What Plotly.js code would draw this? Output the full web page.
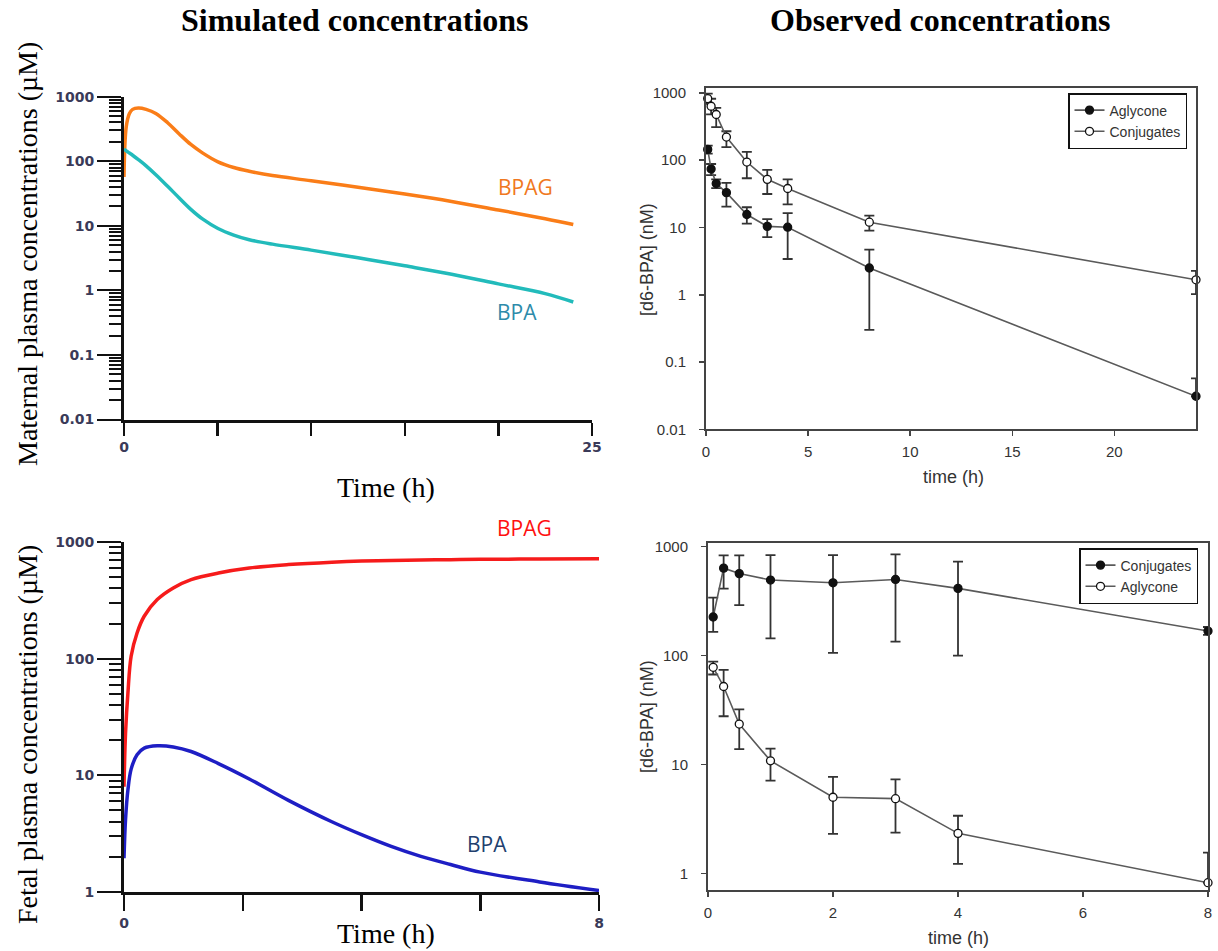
<!DOCTYPE html>
<html><head><meta charset="utf-8">
<script src="https://cdn.plot.ly/plotly-3.0.1.min.js"></script>
<style>html,body{margin:0;padding:0;background:#fff;} #chart{width:1218px;height:951px;}</style>
</head><body><div id="chart"></div>
<script>
// ---------- Simulated maternal (top-left) ----------
const matTime = [0, 0.12, 0.29, 0.46, 0.77, 1.18, 1.7, 2.33, 2.95, 3.57, 4.19, 5.02, 5.86, 6.69, 7.93, 10, 12.5, 15, 17.5, 20, 22.5, 24];
const matBPAG = [57, 343, 550, 636, 667, 636, 551, 395, 265, 182, 135, 98, 80, 70, 60, 50, 39.5, 31, 23.8, 17.6, 12.9, 10.5];
const matBPA  = [155, 145, 134, 124, 106, 85, 62, 41, 27, 18, 12.8, 9.1, 7.2, 6.1, 5.2, 4.2, 3.2, 2.4, 1.78, 1.26, 0.89, 0.66];

// ---------- Simulated fetal (bottom-left) ----------
const fetTime = [0, 0.026, 0.066, 0.12, 0.22, 0.34, 0.56, 0.83, 1.13, 1.59, 2.11, 2.77, 3.5, 4, 4.5, 5, 5.5, 6, 7, 8];
const fetBPAG = [8, 23, 51, 105, 166, 231, 321, 404, 476, 542, 598, 640, 672, 687, 695, 701, 706, 710, 715, 720];
const fetBPA  = [1.95, 4.2, 7.5, 11.3, 15.0, 17.1, 17.9, 17.5, 16.0, 12.6, 9.3, 6.1, 4.0, 3.1, 2.46, 2.02, 1.72, 1.48, 1.22, 1.03];

// ---------- Observed maternal (top-right) ----------
const obsTimeMat = [0.083, 0.25, 0.5, 1, 2, 3, 4, 8, 24];
const aglyMat    = [145, 74, 45, 33, 15.6, 10.4, 10.1, 2.5, 0.031];
const aglyMatUp  = [165, 88, 52, 46, 20, 13.3, 16.4, 4.7, 0.057];
const aglyMatLo  = [125, 60, 38.5, 20.4, 11.4, 7.2, 3.4, 0.30, 0.031];
const conjMat    = [825, 635, 479, 221, 94, 52, 38, 12, 1.67];
const conjMatUp  = [980, 820, 600, 270, 133, 72, 52, 15, 2.27];
const conjMatLo  = [690, 480, 310, 157, 54, 31.5, 22, 9, 1.02];

// ---------- Observed fetal (bottom-right) ----------
const obsTimeFet = [0.083, 0.25, 0.5, 1, 2, 3, 4, 8];
const conjFet    = [226, 635, 566, 494, 466, 500, 414, 168];
const conjFetUp  = [340, 833, 833, 838, 838, 850, 728, 183];
const conjFetLo  = [165, 412, 290, 144, 106, 134, 100, 155];
const aglyFet    = [78, 52, 23.5, 10.8, 5.0, 4.85, 2.33, 0.82];
const aglyFetUp  = [88, 74, 32, 14, 7.7, 7.3, 3.38, 1.55];
const aglyFetLo  = [67, 27.7, 13.8, 7.1, 2.3, 2.37, 1.22, 0.82];

// ---------- Tick labels ----------
const simYTickVals = [0.01, 0.1, 1, 10, 100, 1000];
const simYTickText = ['0.01', '0.1', '1', '10', '100', '1000'];
const matXTickVals = [0, 5, 10, 15, 20, 25];
const matXTickText = ['0', '', '', '', '', '25'];
const fetXTickVals = [0, 2, 4, 6, 8];
const fetXTickText = ['0', '', '', '', '8'];
const fetYTickVals = [1, 10, 100, 1000];
const fetYTickText = ['1', '10', '100', '1000'];

// ---------- helpers ----------
const W = 1218, H = 951;
const dx = (a, b) => [a / W, b / W];
const dy = (top, bottom) => [1 - bottom / H, 1 - top / H];
function minorTicks(lo, hi) {
  const v = [];
  for (let d = lo; d < hi; d++) for (let k = 2; k <= 9; k++) v.push(k * Math.pow(10, d));
  return v;
}
const diff = (a, b) => a.map((v, i) => v - b[i]);

const simTickFont = {family: 'DejaVu Sans', size: 14, color: '#3a3a58', weight: 'bold'};
const obsTickFont = {family: 'Liberation Sans, Arial', size: 15, color: '#333'};

function simX(domain, range, vals, text, len) {
  return {domain, range, showline: true, linecolor: '#111', linewidth: 3,
    ticks: 'outside', ticklen: len, tickwidth: 2.5, tickcolor: '#111',
    tickmode: 'array', tickvals: vals, ticktext: text, tickfont: simTickFont,
    showgrid: false, zeroline: false, fixedrange: true};
}
function simY(domain, range, vals, text, lo, hi) {
  return {domain, type: 'log', range, showline: true, linecolor: '#111', linewidth: 3,
    ticks: 'outside', ticklen: 24, tickwidth: 2, tickcolor: '#111',
    tickmode: 'array', tickvals: vals, ticktext: text, tickfont: simTickFont,
    minor: {tickmode: 'array', tickvals: minorTicks(lo, hi), ticks: 'outside', ticklen: 12, tickwidth: 2, tickcolor: '#111', showgrid: false},
    showgrid: false, zeroline: false, fixedrange: true};
}
function obsX(domain, range, dtick) {
  return {domain, range, showline: true, mirror: true, linecolor: '#444', linewidth: 2,
    ticks: 'outside', ticklen: 5, tickwidth: 1.5, tickcolor: '#444',
    tick0: 0, dtick, tickfont: obsTickFont, ticklabelstandoff: 3,
    showgrid: false, zeroline: false, fixedrange: true};
}
function obsY(domain, range, vals) {
  return {domain, type: 'log', range, showline: true, mirror: true, linecolor: '#444', linewidth: 2,
    ticks: 'outside', ticklen: 5, tickwidth: 1.5, tickcolor: '#444',
    tickmode: 'array', tickvals: vals, ticktext: vals.map(String), tickfont: obsTickFont, ticklabelstandoff: 10,
    showgrid: false, zeroline: false, fixedrange: true};
}

const lineSim = (x, y, color, xa, ya) => ({
  x, y, xaxis: xa, yaxis: ya, type: 'scatter', mode: 'lines', showlegend: false,
  line: {color, width: 3.5, shape: 'spline', smoothing: 1}, hoverinfo: 'skip'
});

function obsTrace(name, x, y, up, lo, filled, xa, ya, legend) {
  return {
    name, x, y, xaxis: xa, yaxis: ya, legend, type: 'scatter', mode: 'lines+markers',
    cliponaxis: false,
    line: {color: '#5a5a5a', width: 1.6},
    marker: {size: 8, color: filled ? '#111' : '#fff', line: {color: '#111', width: 1.3}},
    error_y: {type: 'data', symmetric: false, array: diff(up, y), arrayminus: diff(y, lo),
      color: '#333', thickness: 1.8, width: 5}
  };
}

const traces = [
  lineSim(matTime, matBPAG, '#FA7D18', 'x', 'y'),
  lineSim(matTime, matBPA, '#22BBBB', 'x', 'y'),
  lineSim(fetTime, fetBPAG, '#F61B1B', 'x3', 'y3'),
  lineSim(fetTime, fetBPA, '#1E1EC4', 'x3', 'y3'),
  obsTrace('Aglycone', obsTimeMat, aglyMat, aglyMatUp, aglyMatLo, true, 'x2', 'y2', 'legend'),
  obsTrace('Conjugates', obsTimeMat, conjMat, conjMatUp, conjMatLo, false, 'x2', 'y2', 'legend'),
  obsTrace('Conjugates', obsTimeFet, conjFet, conjFetUp, conjFetLo, true, 'x4', 'y4', 'legend2'),
  obsTrace('Aglycone', obsTimeFet, aglyFet, aglyFetUp, aglyFetLo, false, 'x4', 'y4', 'legend2')
];

const xa1 = simX(dx(124, 592), [0, 25], matXTickVals, matXTickText, 13); xa1.anchor = 'y';
const ya1 = simY(dy(96.7, 419.5), [-2, 3], simYTickVals, simYTickText, -2, 3); ya1.anchor = 'x';
const xa3 = simX(dx(124, 599), [0, 8], fetXTickVals, fetXTickText, 16); xa3.anchor = 'y3';
const ya3 = simY(dy(542, 892), [0, 3], fetYTickVals, fetYTickText, 0, 3); ya3.anchor = 'x3';
const xa2 = obsX(dx(706, 1196), [0, 24], 5); xa2.anchor = 'y2';
const ya2 = obsY(dy(88, 429.3), [-2, 3.074], simYTickVals); ya2.anchor = 'x2';
const xa4 = obsX(dx(708, 1208), [0, 8], 2); xa4.anchor = 'y4';
const ya4 = obsY(dy(543.3, 890), [-0.153, 3.031], fetYTickVals); ya4.anchor = 'x4';

const serif = 'Liberation Serif, Times New Roman, serif';
const sans = 'Liberation Sans, Arial, sans-serif';
const ann = (text, px, py, font, extra) => Object.assign({
  text, x: px / W, y: 1 - py / H, xref: 'paper', yref: 'paper', showarrow: false,
  xanchor: 'center', yanchor: 'middle', font
}, extra || {});

const legendBase = {xanchor: 'left', yanchor: 'top', bgcolor: '#fff', bordercolor: '#111', borderwidth: 1.5,
  font: {family: sans, size: 14, color: '#333'}, itemwidth: 30, tracegroupgap: 0};

const labelFont = (color) => ({family: 'Open Sans, Noto Sans, sans-serif', size: 21, color});

const layout = {
  width: W, height: H, margin: {l: 0, r: 0, t: 0, b: 0},
  paper_bgcolor: '#fff', plot_bgcolor: 'rgba(0,0,0,0)',
  showlegend: true,
  legend: Object.assign({x: 1068 / W, y: 1 - 93 / H}, legendBase),
  legend2: Object.assign({x: 1079 / W, y: 1 - 548 / H}, legendBase),
  xaxis: xa1, yaxis: ya1, xaxis2: xa2, yaxis2: ya2, xaxis3: xa3, yaxis3: ya3, xaxis4: xa4, yaxis4: ya4,
  annotations: [
    ann('Simulated concentrations', 355, 20, {family: serif, size: 32, color: '#000', weight: 'bold'}),
    ann('Observed concentrations', 940, 20, {family: serif, size: 32, color: '#000', weight: 'bold'}),
    ann('Time (h)', 386, 487, {family: serif, size: 28, color: '#000'}),
    ann('Time (h)', 386, 933, {family: serif, size: 28, color: '#000'}),
    ann('Maternal plasma concentrations (µM)', 27, 254, {family: serif, size: 28, color: '#000'}, {textangle: -90}),
    ann('Fetal plasma concentrations (µM)', 27, 735, {family: serif, size: 28, color: '#000'}, {textangle: -90}),
    ann('[d6-BPA] (nM)', 647, 260, {family: sans, size: 18, color: '#333'}, {textangle: -90}),
    ann('[d6-BPA] (nM)', 647, 717, {family: sans, size: 18, color: '#333'}, {textangle: -90}),
    ann('time (h)', 953, 477, {family: sans, size: 18, color: '#333'}),
    ann('time (h)', 958, 938, {family: sans, size: 18, color: '#333'}),
    ann('BPAG', 525, 187, labelFont('#F07820')),
    ann('BPA', 517, 312, labelFont('#2E8BAA')),
    ann('BPAG', 524, 528, labelFont('#FF1010')),
    ann('BPA', 487, 844, labelFont('#22406E'))
  ]
};

Plotly.newPlot('chart', traces, layout, {staticPlot: true, displayModeBar: false});
</script></body></html>
